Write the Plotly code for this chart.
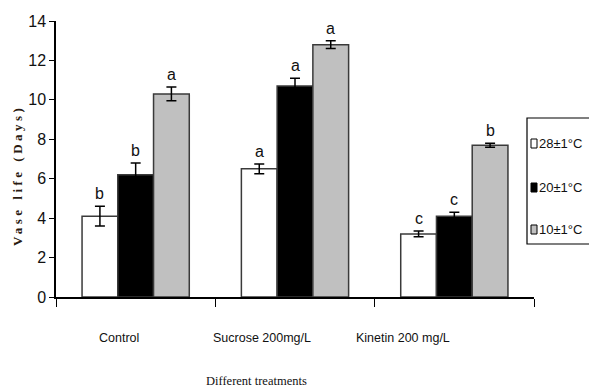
import plotly.graph_objects as go

# Treatments and temperature series
categories = ["Control", "Sucrose 200mg/L", "Kinetin 200 mg/L"]
series_names = ["28±1°C", "20±1°C", "10±1°C"]

# Mean vase life (days) per temperature
temp_28 = [4.1, 6.5, 3.2]
temp_20 = [6.2, 10.7, 4.1]
temp_10 = [10.3, 12.8, 7.7]

# Standard errors
err_28 = [0.5, 0.25, 0.15]
err_20 = [0.6, 0.4, 0.2]
err_10 = [0.35, 0.2, 0.1]

# Significance letters
letters_28 = ["b", "a", "c"]
letters_20 = ["b", "a", "c"]
letters_10 = ["a", "a", "b"]

y_ticks = [0, 2, 4, 6, 8, 10, 12, 14]

values = [temp_28, temp_20, temp_10]
errors = [err_28, err_20, err_10]
letters = [letters_28, letters_20, letters_10]
fills = ["#ffffff", "#000000", "#c0c0c0"]

SANS = "Liberation Sans, Arial, sans-serif"
SERIF = "Liberation Serif, Times New Roman, serif"

W, H = 589, 390
L, R, T, B = 56, 55, 21, 93
PW, PH = W - L - R, H - T - B


def px_x(px):
    return (px - L) / PW


def px_y(py):
    return (H - B - py) / PH


BARGAP = 0.327
positions = list(range(len(categories)))
boundaries = [p - 0.5 for p in positions] + [positions[-1] + 0.5]

fig = go.Figure()
for name, vals, errs, fill in zip(series_names, values, errors, fills):
    fig.add_trace(go.Bar(
        x=positions, y=vals, name=name,
        marker=dict(color=fill, line=dict(color="#3a3a3a", width=1.5)),
        error_y=dict(type="data", array=errs, visible=True,
                     color="#000000", thickness=1.5, width=5),
        showlegend=False,
    ))

# Letters above each bar
bar_w = (1 - BARGAP) / len(series_names)
annotations = []
for i, (vals, errs, lets) in enumerate(zip(values, errors, letters)):
    off = (i - (len(series_names) - 1) / 2) * bar_w
    for j, (v, e, lt) in enumerate(zip(vals, errs, lets)):
        annotations.append(dict(
            x=positions[j] + off, y=v + e, xref="x", yref="y", text=lt,
            showarrow=False, yanchor="bottom", yshift=2,
            font=dict(family=SANS, size=16, color="#111111"),
        ))

# Category labels under the axis
label_px = [119, 262, 403]
for cat, lx in zip(categories, label_px):
    annotations.append(dict(
        x=px_x(lx), y=px_y(338), xref="paper", yref="paper", text=cat,
        showarrow=False, xanchor="center", yanchor="middle",
        font=dict(family=SANS, size=12.5, color="#111111"),
    ))

# Axis titles
annotations.append(dict(
    x=px_x(256), y=px_y(381), xref="paper", yref="paper",
    text="Different treatments", showarrow=False,
    xanchor="center", yanchor="middle",
    font=dict(family=SERIF, size=12.5, color="#111111"),
))
annotations.append(dict(
    x=px_x(17), y=px_y(176), xref="paper", yref="paper",
    text='<span style="letter-spacing:3.5px"><b>Vase life (Days)</b></span>',
    showarrow=False, textangle=-90, xanchor="center", yanchor="middle",
    font=dict(family=SERIF, size=13, color="#2a1a10"),
))

# Legend box drawn by hand
shapes = [dict(
    type="rect", xref="paper", yref="paper",
    x0=px_x(527), x1=px_x(600), y0=px_y(244), y1=px_y(118),
    line=dict(color="#000000", width=1.2), fillcolor="#ffffff",
)]
legend_rows = [143, 187, 229]
for name, fill, ry in zip(series_names, fills, legend_rows):
    shapes.append(dict(
        type="rect", xref="paper", yref="paper",
        x0=px_x(531), x1=px_x(537), y0=px_y(ry + 5), y1=px_y(ry - 4),
        line=dict(color="#000000", width=1), fillcolor=fill,
    ))
    annotations.append(dict(
        x=px_x(537), y=px_y(ry), xref="paper", yref="paper", text=name,
        showarrow=False, xanchor="left", yanchor="middle",
        font=dict(family=SANS, size=13, color="#111111"),
    ))

fig.update_layout(
    width=W, height=H,
    margin=dict(l=L, r=R, t=T, b=B, autoexpand=False),
    paper_bgcolor="#ffffff", plot_bgcolor="#ffffff",
    barmode="group", bargap=BARGAP, bargroupgap=0,
    annotations=annotations, shapes=shapes,
    xaxis=dict(
        range=[boundaries[0], boundaries[-1]], tickmode="array",
        tickvals=boundaries, ticktext=[""] * len(boundaries),
        ticks="outside", ticklen=8, tickwidth=1.2, tickcolor="#000000",
        showline=True, linecolor="#000000", linewidth=1.5,
        showgrid=False, zeroline=False,
    ),
    yaxis=dict(
        range=[0, 14], tickvals=y_ticks, ticks="outside", ticklen=5,
        tickwidth=1.2, tickcolor="#000000", showline=True,
        linecolor="#000000", linewidth=1.5, showgrid=False,
        zeroline=False,
        tickfont=dict(family=SANS, size=16, color="#111111"),
    ),
    showlegend=False,
)

fig.write_html("out.html")
